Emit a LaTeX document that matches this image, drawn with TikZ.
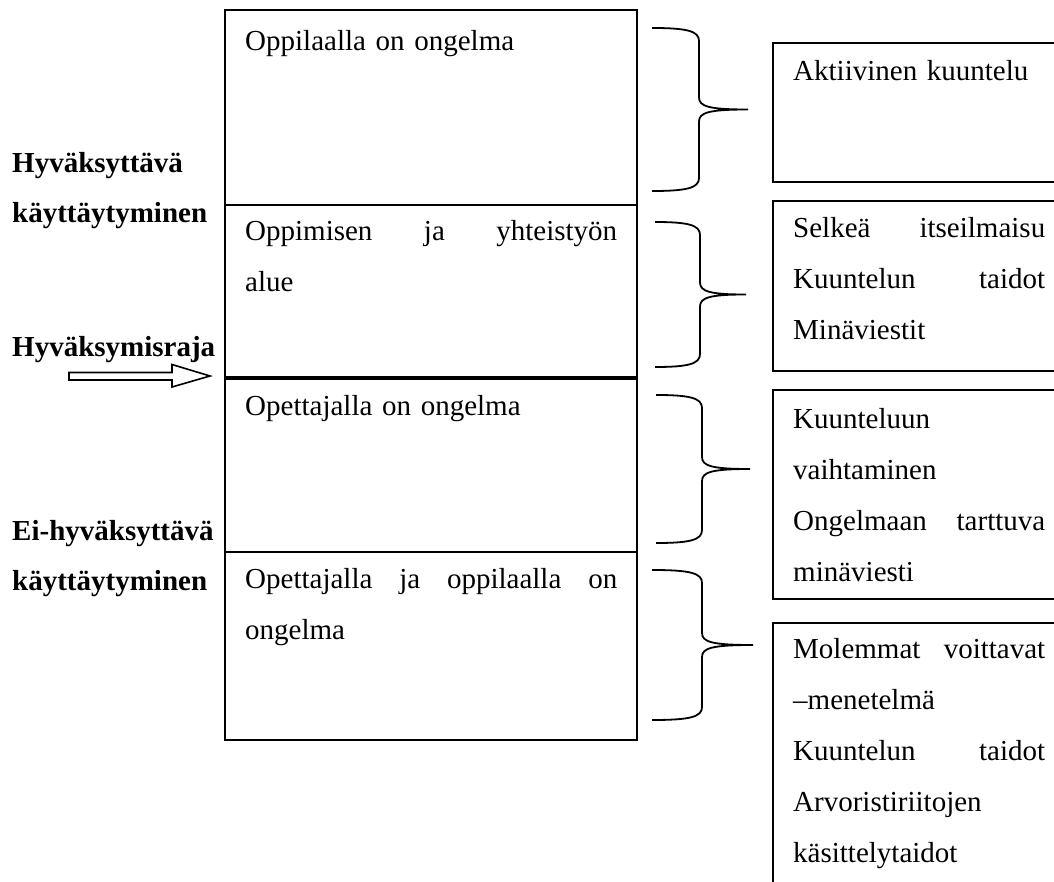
\documentclass[tikz,border=0pt]{standalone}
\usepackage{fontspec}
\setmainfont{Liberation Serif}
\newcommand\mybrace[6]{% x0, xv, xt, ytop, ymid, ybot
  \draw[brace] (#1,#4) .. controls (#2-12,#4) and (#2,#4+3) .. (#2,#4+13)
    -- (#2,#5-12) .. controls (#2,#5-3) and (#2+10,#5) .. (#3,#5)
    .. controls (#2+10,#5) and (#2,#5+3) .. (#2,#5+12)
    -- (#2,#6-13) .. controls (#2,#6-3) and (#2-12,#6) .. (#1,#6);}
\begin{document}
\begin{tikzpicture}[x=1pt,y=-1pt,
  frame/.style={line width=2pt},
  thickrule/.style={line width=3.2pt},
  brace/.style={line width=1.8pt},
  txt/.style={anchor=base west, inner sep=0pt, align=left, font=\fontsize{29}{51}\selectfont},
  lbl/.style={anchor=base west, inner sep=0pt, font=\bfseries\fontsize{29}{51}\selectfont}]
\useasboundingbox (0,0) rectangle (1054,882);
% central column
\draw[frame] (225,10) rectangle (637,740);
\draw[frame] (225,205) -- (637,205);
\draw[thickrule] (225,378) -- (637,378);
\draw[frame] (225,552) -- (637,552);
\node[txt, text width=372pt] (c1) at (245,51) {Oppilaalla on ongelma};
\node[txt, text width=372pt] (c2) at (245,241) {Oppimisen\hfill ja\hfill yhteistyön\\alue};
\node[txt, text width=372pt] (c3) at (245,415) {Opettajalla on ongelma};
\node[txt, text width=372pt] (c4) at (245,588) {Opettajalla\hfill ja\hfill oppilaalla\hfill on\\ongelma};
% left labels
\node[lbl] (l1) at (12,173) {Hyväksyttävä};
\node[lbl] (l2) at (12,223) {käyttäytyminen};
\node[lbl] (l3) at (12,356) {Hyväksymisraja};
\node[lbl] (l4) at (12,540) {Ei-hyväksyttävä};
\node[lbl] (l5) at (12,590) {käyttäytyminen};
% block arrow
\draw[line width=1.6pt] (69,372.5) -- (172,372.5) -- (172,364.5) -- (210,376)
  -- (172,387) -- (172,380) -- (69,380) -- cycle;
% braces
\mybrace{652}{699}{748}{28}{109.5}{191}
\mybrace{655}{700}{746}{222}{294.5}{367}
\mybrace{656}{702}{750}{395}{469}{543}
\mybrace{652}{702}{753}{570}{645}{720}
% right boxes
\draw[frame] (1060,43) -| (773,182) -- (1060,182);
\draw[frame] (1060,201) -| (773,371) -- (1060,371);
\draw[frame] (1060,390) -| (773,599) -- (1060,599);
\draw[frame] (1060,623) -| (773,890);
\node[txt, text width=252pt] (r1) at (793,81) {Aktiivinen kuuntelu};
\node[txt, text width=252pt] (r2) at (793,238) {Selkeä\hfill itseilmaisu\\Kuuntelun\hfill taidot\\Minäviestit};
\node[txt, text width=252pt] (r3) at (793,428) {Kuunteluun\\vaihtaminen\\Ongelmaan\hfill tarttuva\\minäviesti};
\node[txt, text width=252pt] (r4) at (793,658) {Molemmat\hfill voittavat\\–menetelmä\\Kuuntelun\hfill taidot\\Arvoristiriitojen\\käsittelytaidot};
\end{tikzpicture}
\end{document}
